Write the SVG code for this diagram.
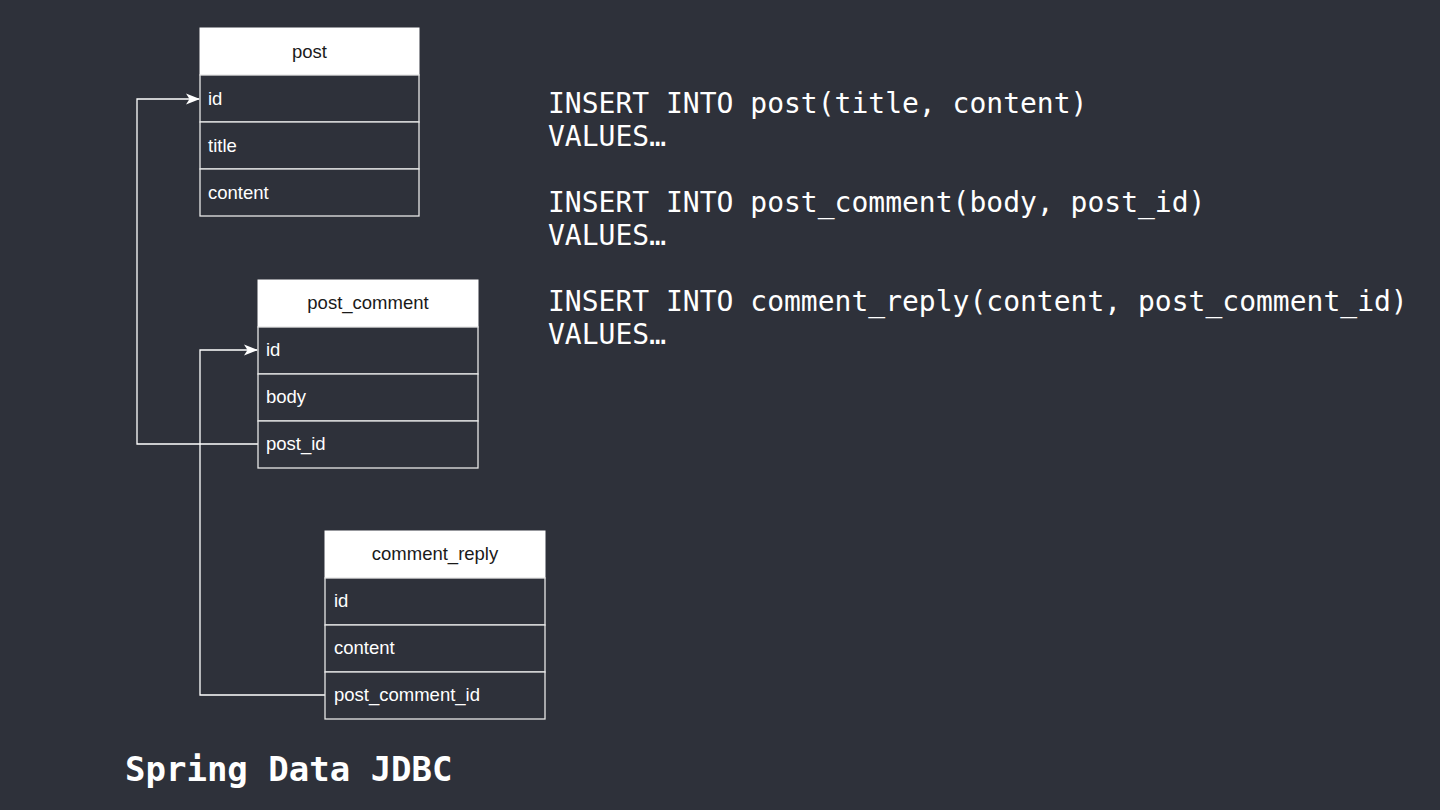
<svg xmlns="http://www.w3.org/2000/svg" width="1440" height="810" viewBox="0 0 1440 810">
<defs>
<marker id="arr" viewBox="0 0 14 12" refX="13" refY="6" markerWidth="14" markerHeight="12" markerUnits="userSpaceOnUse" orient="auto">
<path d="M0,0.5 L14,6 L0,11.5 L3.5,6 Z" fill="#ffffff"/>
</marker>
<style>
.hdr{fill:#ffffff;stroke:#ffffff;stroke-width:1}
.row{fill:#2e313a;stroke:#e6e6e6;stroke-width:1.3}
.ht{font-family:"Liberation Sans",Arial,sans-serif;font-size:18.5px;fill:#1a1a1a;text-anchor:middle}
.rt{font-family:"Liberation Sans",Arial,sans-serif;font-size:18.5px;fill:#ffffff}
.code{font-family:"DejaVu Sans Mono","Liberation Mono",monospace;font-size:28px;fill:#ffffff}
.conn{fill:none;stroke:#ffffff;stroke-width:1.3}
</style>
</defs>
<rect width="1440" height="810" fill="#2e313a"/>
<g id="connectors">
<path class="conn" d="M258,444 H137 V99 H199" marker-end="url(#arr)"/>
<path class="conn" d="M325,695 H200 V350 H257" marker-end="url(#arr)"/>
</g>
<g id="post">
<rect class="hdr" x="200" y="28" width="219" height="47"/>
<text class="ht" x="309.5" y="58">post</text>
<rect class="row" x="200" y="75" width="219" height="47"/>
<text class="rt" x="208" y="105">id</text>
<rect class="row" x="200" y="122" width="219" height="47"/>
<text class="rt" x="208" y="152">title</text>
<rect class="row" x="200" y="169" width="219" height="47"/>
<text class="rt" x="208" y="199">content</text>
</g>
<g id="post_comment">
<rect class="hdr" x="258" y="280" width="220" height="47"/>
<text class="ht" x="368" y="309">post_comment</text>
<rect class="row" x="258" y="327" width="220" height="47"/>
<text class="rt" x="266" y="356">id</text>
<rect class="row" x="258" y="374" width="220" height="47"/>
<text class="rt" x="266" y="403">body</text>
<rect class="row" x="258" y="421" width="220" height="47"/>
<text class="rt" x="266" y="450">post_id</text>
</g>
<g id="comment_reply">
<rect class="hdr" x="325" y="531" width="220" height="47"/>
<text class="ht" x="435" y="560">comment_reply</text>
<rect class="row" x="325" y="578" width="220" height="47"/>
<text class="rt" x="334" y="607">id</text>
<rect class="row" x="325" y="625" width="220" height="47"/>
<text class="rt" x="334" y="654">content</text>
<rect class="row" x="325" y="672" width="220" height="47"/>
<text class="rt" x="334" y="701">post_comment_id</text>
</g>
<g id="sql">
<text class="code" x="548" y="113">INSERT INTO post(title, content)</text>
<text class="code" x="548" y="146">VALUES…</text>
<text class="code" x="548" y="212">INSERT INTO post_comment(body, post_id)</text>
<text class="code" x="548" y="245">VALUES…</text>
<text class="code" x="548" y="311">INSERT INTO comment_reply(content, post_comment_id)</text>
<text class="code" x="548" y="344">VALUES…</text>
</g>
<g id="title">
<text x="125" y="781" font-family="'DejaVu Sans Mono','Liberation Mono',monospace" font-weight="bold" font-size="34" fill="#ffffff">Spring Data JDBC</text>
</g>
</svg>
